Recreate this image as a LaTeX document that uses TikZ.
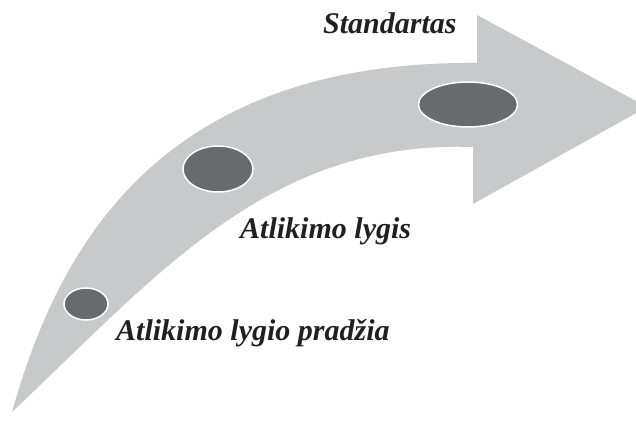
\documentclass[tikz,border=0pt]{standalone}
\usepackage{fontspec}
\setmainfont{Liberation Serif}
\usetikzlibrary{shapes.geometric}
\definecolor{arrowgray}{HTML}{C8C9CB}
\definecolor{dotgray}{HTML}{696A6E}
\definecolor{txt}{HTML}{231F20}
\begin{document}
\begin{tikzpicture}[x=1pt,y=-1pt,
  dot/.style={ellipse, fill=dotgray, draw=white, line width=1.5pt, inner sep=0pt},
  lbl/.style={font=\fontsize{30}{36}\selectfont\bfseries\itshape, text=txt, inner sep=0pt, anchor=base west}]
\useasboundingbox (0,0) rectangle (636,421);
\clip (0,0) rectangle (636,421);
\fill[arrowgray] (12,412) .. controls (55,260) and (150,60) .. (477,63) -- (477,15) -- (647,107) -- (473,204) -- (473,147) .. controls (270,140) and (160,272) .. (12,412) -- cycle;
\node[dot, minimum width=99pt, minimum height=45pt] (e3) at (468,104.5) {};
\node[dot, minimum width=70pt, minimum height=46pt] (e2) at (218,169) {};
\node[dot, minimum width=44pt, minimum height=32pt] (e1) at (86,304) {};
\node[lbl] (t3) at (323,33) {Standartas};
\node[lbl] (t2) at (240,238) {Atlikimo lygis};
\node[lbl] (t1) at (116,340) {Atlikimo lygio pradžia};
\end{tikzpicture}
\end{document}
